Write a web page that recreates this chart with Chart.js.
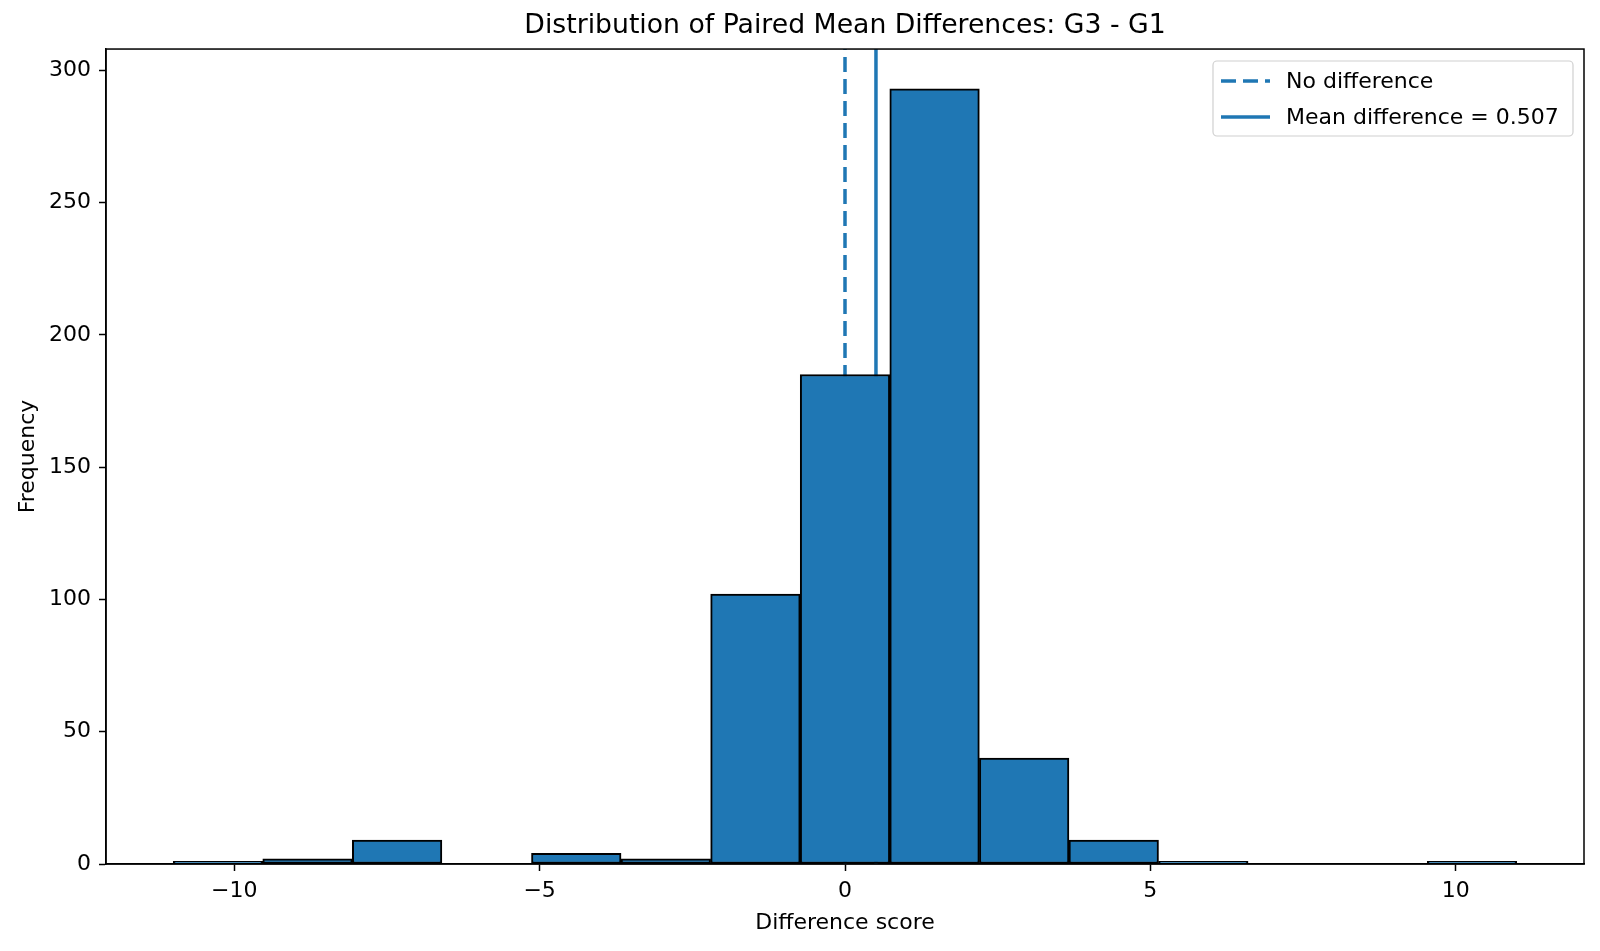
<!DOCTYPE html>
<html>
<head>
<meta charset="utf-8">
<script src="https://cdn.jsdelivr.net/npm/chart.js@4/dist/chart.umd.min.js"></script>
<style>
  html, body { margin: 0; padding: 0; background: #fff; }
  #wrap { width: 1600px; height: 951px; position: relative; }
</style>
</head>
<body>
<div id="wrap"><canvas id="histChart"></canvas></div>
<script>
// Histogram of paired differences (G3 - G1)
const binEdges = [-11, -9.533, -8.067, -6.6, -5.133, -3.667, -2.2, -0.733, 0.733, 2.2, 3.667, 5.133, 6.6, 8.067, 9.533, 11];
const counts = [1, 2, 9, 0, 4, 2, 102, 185, 293, 40, 9, 1, 0, 0, 1];
const xTicks = [-10, -5, 0, 5, 10];
const yTicks = [0, 50, 100, 150, 200, 250, 300];
const refLines = [
  { label: "No difference", x: 0, dashed: true },
  { label: "Mean difference = 0.507", x: 0.507, dashed: false },
];

const BLUE = "#1f77b4";
const FONT = "'DejaVu Sans', sans-serif";
const Y_MAX = 308;

const barData = counts.map((c, i) => ({ x: (binEdges[i] + binEdges[i + 1]) / 2, y: c }));

const lineSets = refLines.map((r) => ({
  type: "line",
  label: r.label,
  data: [{ x: r.x, y: 0 }, { x: r.x, y: Y_MAX }],
  borderColor: BLUE,
  borderWidth: 3.5,
  borderDash: r.dashed ? [15, 7] : [],
  pointRadius: 0,
  fill: false,
  order: 2,
}));

const minus = (v) => String(v).replace("-", "\u2212");

// frame round the plot area + legend box inside it
const framePlugin = {
  id: "frame",
  afterDraw(chart) {
    const { ctx, chartArea: a } = chart;
    ctx.save();
    ctx.strokeStyle = "#000";
    ctx.lineWidth = 1.5;
    ctx.strokeRect(a.left, a.top, a.right - a.left, a.bottom - a.top);

    // legend
    const lx = 1213, ly = 61, lw = 360, lh = 75;
    ctx.fillStyle = "rgba(255,255,255,0.8)";
    ctx.strokeStyle = "#d0d0d0";
    ctx.lineWidth = 1.2;
    ctx.beginPath();
    ctx.roundRect(lx, ly, lw, lh, 4);
    ctx.fill();
    ctx.stroke();

    ctx.font = "22px " + FONT;
    ctx.textBaseline = "middle";
    ctx.textAlign = "left";
    refLines.forEach((r, i) => {
      const y = ly + 20 + i * 36;
      ctx.strokeStyle = BLUE;
      ctx.lineWidth = 3.5;
      ctx.setLineDash(r.dashed ? [15, 7] : []);
      ctx.beginPath();
      ctx.moveTo(1221, y);
      ctx.lineTo(1270, y);
      ctx.stroke();
      ctx.setLineDash([]);
      ctx.fillStyle = "#000";
      ctx.fillText(r.label, 1286, y + 1);
    });
    ctx.restore();
  },
};

const ctx = document.getElementById("histChart").getContext("2d");

new Chart(ctx, {
  type: "bar",
  data: {
    datasets: [
      {
        label: "Counts",
        data: barData,
        backgroundColor: BLUE,
        borderColor: "#000",
        borderWidth: 2,
        borderSkipped: false,
        barPercentage: 1,
        categoryPercentage: 1,
        order: 1,
      },
      ...lineSets,
    ],
  },
  options: {
    responsive: true,
    maintainAspectRatio: false,
    animation: false,
    layout: { padding: { left: 0, right: 16, top: 0, bottom: 0 } },
    plugins: {
      legend: { display: false },
      tooltip: { enabled: false },
      title: {
        display: true,
        text: "Distribution of Paired Mean Differences: G3 - G1",
        fullSize: false,
        color: "#000",
        font: { family: FONT, size: 26.7, weight: "normal" },
        padding: { top: 10, bottom: 7 },
      },
    },
    scales: {
      x: {
        type: "linear",
        offset: false,
        min: -12.1,
        max: 12.1,
        afterBuildTicks: (scale) => { scale.ticks = xTicks.map((v) => ({ value: v })); },
        afterFit: (scale) => { scale.height = 87; },
        ticks: {
          color: "#000",
          font: { family: FONT, size: 22 },
          padding: 7,
          maxRotation: 0,
          callback: (v) => minus(v),
        },
        grid: { display: true, offset: false, drawOnChartArea: false, drawTicks: true, tickLength: 7, tickColor: "#000", tickWidth: 1.5 },
        border: { display: true, color: "#000", width: 1.5 },
        title: {
          display: true,
          text: "Difference score",
          color: "#000",
          font: { family: FONT, size: 22 },
          padding: { top: 0, bottom: 15 },
        },
      },
      y: {
        type: "linear",
        min: 0,
        max: Y_MAX,
        afterBuildTicks: (scale) => { scale.ticks = yTicks.map((v) => ({ value: v })); },
        afterFit: (scale) => { scale.width = 106; },
        ticks: {
          color: "#000",
          font: { family: FONT, size: 22 },
          padding: 8,
        },
        grid: { display: true, drawOnChartArea: false, drawTicks: true, tickLength: 7, tickColor: "#000", tickWidth: 1.5 },
        border: { display: true, color: "#000", width: 1.5 },
        title: {
          display: true,
          text: "Frequency",
          color: "#000",
          font: { family: FONT, size: 22 },
          padding: { top: 15, bottom: 0 },
        },
      },
    },
  },
  plugins: [framePlugin],
});
</script>
</body>
</html>
